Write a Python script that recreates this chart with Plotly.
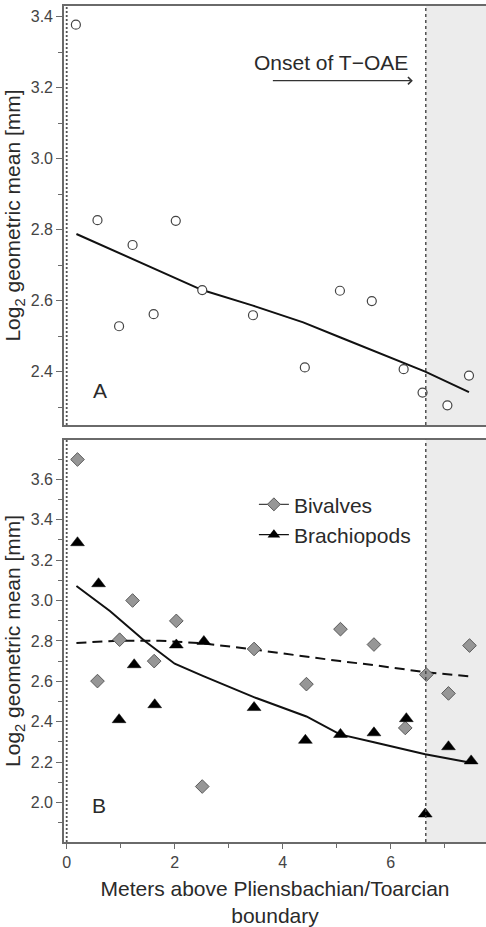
import plotly.graph_objects as go
from plotly.subplots import make_subplots

# ---------------- data ----------------
# Panel A: all taxa
a_x = [0.17, 0.57, 0.97, 1.22, 1.61, 2.02, 2.51, 3.45, 4.41, 5.06, 5.65, 6.24, 6.59, 7.05, 7.45]
a_y = [3.378, 2.827, 2.528, 2.757, 2.562, 2.825, 2.630, 2.559, 2.412, 2.628, 2.599, 2.407, 2.341, 2.305, 2.389]
a_fit_x = [0.18, 1.22, 2.02, 2.51, 3.45, 4.38, 5.06, 5.65, 6.24, 6.64, 7.45]
a_fit_y = [2.788, 2.718, 2.665, 2.630, 2.586, 2.539, 2.497, 2.461, 2.425, 2.400, 2.342]

# Panel B: bivalves and brachiopods
biv_x = [0.20, 0.57, 0.98, 1.22, 1.62, 2.03, 2.51, 3.47, 4.44, 5.07, 5.69, 6.27, 6.66, 7.07, 7.46]
biv_y = [3.698, 2.601, 2.806, 3.000, 2.700, 2.899, 2.079, 2.760, 2.586, 2.858, 2.782, 2.369, 2.633, 2.540, 2.777]
bra_x = [0.20, 0.59, 0.97, 1.25, 1.63, 2.03, 2.54, 3.47, 4.42, 5.07, 5.69, 6.29, 6.64, 7.07, 7.49]
bra_y = [3.286, 3.083, 2.410, 2.682, 2.484, 2.780, 2.797, 2.470, 2.308, 2.337, 2.345, 2.415, 1.943, 2.276, 2.206]

biv_fit_x = [0.18, 0.98, 1.72, 2.52, 3.39, 4.44, 5.06, 5.69, 6.64, 7.46]
biv_fit_y = [2.790, 2.801, 2.801, 2.788, 2.760, 2.720, 2.700, 2.680, 2.645, 2.625]
bra_fit_x = [0.18, 0.80, 1.44, 2.00, 2.52, 3.51, 4.44, 5.06, 5.69, 6.64, 7.46]
bra_fit_y = [3.072, 2.948, 2.801, 2.687, 2.627, 2.517, 2.426, 2.337, 2.298, 2.239, 2.198]

toae_onset = 6.65
x_range = [-0.05, 7.765]

FONT = "Liberation Sans, Arial, sans-serif"
AXC = "#6a6a6a"
TXT = "#2a2a2a"

fig = make_subplots(rows=2, cols=1, vertical_spacing=0.0)

# Panel A
fig.add_trace(go.Scatter(x=a_fit_x, y=a_fit_y, mode="lines",
                         line=dict(color="#111111", width=2), showlegend=False,
                         hoverinfo="skip"), row=1, col=1)
fig.add_trace(go.Scatter(x=a_x, y=a_y, mode="markers",
                         marker=dict(symbol="circle", size=9, color="white",
                                     line=dict(color="#444444", width=1.2)),
                         showlegend=False), row=1, col=1)

# Panel B
fig.add_trace(go.Scatter(x=biv_fit_x, y=biv_fit_y, mode="lines",
                         line=dict(color="#111111", width=2, dash="10px,6px"),
                         showlegend=False, hoverinfo="skip"), row=2, col=1)
fig.add_trace(go.Scatter(x=bra_fit_x, y=bra_fit_y, mode="lines",
                         line=dict(color="#111111", width=2),
                         showlegend=False, hoverinfo="skip"), row=2, col=1)
fig.add_trace(go.Scatter(x=biv_x, y=biv_y, mode="markers",
                         marker=dict(symbol="diamond", size=10.5, color="#969696",
                                     line=dict(color="#5a5a5a", width=1)),
                         showlegend=False), row=2, col=1)
fig.add_trace(go.Scatter(x=bra_x, y=bra_y, mode="markers",
                         marker=dict(symbol="triangle-up", size=12, color="#000000",
                                     line=dict(color="#000000", width=0.5)),
                         showlegend=False), row=2, col=1)

# legend entries
fig.add_trace(go.Scatter(x=[None], y=[None], mode="lines+markers", name="Bivalves",
                         line=dict(color="#444444", width=1.2),
                         marker=dict(symbol="diamond", size=10, color="#969696",
                                     line=dict(color="#5a5a5a", width=1))),
              row=2, col=1)
fig.add_trace(go.Scatter(x=[None], y=[None], mode="lines+markers", name="Brachiopods",
                         line=dict(color="#111111", width=1.2),
                         marker=dict(symbol="triangle-up", size=11, color="#000000")),
              row=2, col=1)

# shaded T-OAE region and boundary lines
for xr, yr in (("x", "y"), ("x2", "y2")):
    fig.add_shape(type="rect", xref=xr, yref=yr + " domain", x0=toae_onset, x1=x_range[1],
                  y0=0, y1=1, fillcolor="#ececec", line_width=0, layer="below")
    fig.add_shape(type="line", xref=xr, yref=yr + " domain", x0=toae_onset, x1=toae_onset,
                  y0=0, y1=1, line=dict(color="#444444", width=1.4, dash="3px,3px"))
    fig.add_shape(type="line", xref=xr, yref=yr + " domain", x0=0, x1=0,
                  y0=0, y1=1, line=dict(color="#555555", width=1.8, dash="2px,2px"))

# annotations
fig.add_annotation(x=4.89, y=3.272, xref="x", yref="y", text="Onset of T\u2212OAE",
                   showarrow=False, font=dict(family=FONT, size=21, color=TXT))
fig.add_annotation(x=6.41, y=3.22, ax=3.79, ay=3.22, xref="x", yref="y",
                   axref="x", ayref="y", text="", showarrow=True, arrowhead=4,
                   arrowsize=1.1, arrowwidth=1.3, arrowcolor="#333333")
fig.add_annotation(x=0.62, y=2.347, xref="x", yref="y", text="A", showarrow=False,
                   font=dict(family=FONT, size=21, color=TXT))
fig.add_annotation(x=0.60, y=1.985, xref="x2", yref="y2", text="B", showarrow=False,
                   font=dict(family=FONT, size=21, color=TXT))

tickfont = dict(family=FONT, size=16, color="#444444")
titlefont = dict(family=FONT, size=21, color=TXT)

fig.update_xaxes(range=x_range, showline=True, linecolor=AXC, linewidth=1.6, mirror=True,
                 showgrid=False, zeroline=False)
fig.update_xaxes(showticklabels=False, ticks="", row=1, col=1)
fig.update_xaxes(ticks="outside", ticklen=5, tickcolor=AXC, tickwidth=1.2, dtick=2, tick0=0,
                 tickfont=tickfont,
                 minor=dict(dtick=1, tick0=0, ticks="outside", ticklen=4, tickcolor=AXC),
                 title=dict(text="Meters above Pliensbachian/Toarcian<br>boundary",
                            font=titlefont, standoff=14),
                 row=2, col=1)

yt = dict(showline=True, linecolor=AXC, linewidth=1.6, showgrid=False, zeroline=False,
          ticks="outside", ticklen=6, tickcolor=AXC, tickwidth=1.2, dtick=0.2, tick0=0,
          tickformat=".1f", tickfont=tickfont,
          minor=dict(dtick=0.1, tick0=0, ticks="outside", ticklen=4, tickcolor=AXC))
fig.update_yaxes(**yt)
fig.update_yaxes(range=[2.2496, 3.4306], domain=[0.4988, 1.0],
                 title=dict(text="Log<sub>2</sub> geometric mean [mm]", font=titlefont,
                            standoff=4), row=1, col=1)
fig.update_yaxes(range=[1.8044, 3.7956], domain=[0.0, 0.4811],
                 title=dict(text="Log<sub>2</sub> geometric mean [mm]", font=titlefont,
                            standoff=4), row=2, col=1)

fig.update_layout(
    width=486, height=927,
    margin=dict(l=64, r=0, t=6, b=75),
    paper_bgcolor="white", plot_bgcolor="white",
    font=dict(family=FONT, color=TXT),
    legend=dict(x=0.45, xanchor="left", y=0.428, yanchor="top",
                font=dict(family=FONT, size=21, color=TXT),
                bgcolor="rgba(0,0,0,0)", itemwidth=30, tracegroupgap=0),
)

fig.write_html("out.html", config={"displayModeBar": False},
               post_script="document.body.style.margin='0';document.body.style.overflow='hidden';")
